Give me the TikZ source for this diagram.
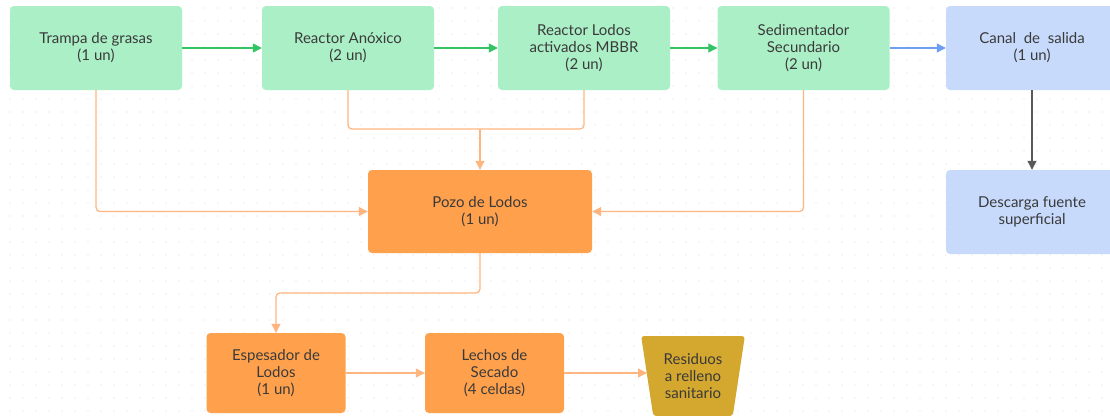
\documentclass[tikz,border=0pt]{standalone}
\usepackage{fontspec}
\setmainfont{Lato}
\usepackage{tikz}
\usetikzlibrary{arrows.meta,shapes.geometric}

\definecolor{mint}{HTML}{ABEFC6}
\definecolor{mintline}{HTML}{33C463}
\definecolor{sky}{HTML}{C7DAFC}
\definecolor{skyline}{HTML}{6E9FF2}
\definecolor{tangerine}{HTML}{FFA04C}
\definecolor{peach}{HTML}{FFB57F}
\definecolor{mustard}{HTML}{D4A72E}
\definecolor{ink}{HTML}{3A3A3A}

\begin{document}
\begin{tikzpicture}[x=1pt, y=-1pt, font=\fontsize{15}{17}\selectfont, text=ink,
                        box/.style={rectangle, rounded corners=4pt, align=center, inner sep=2pt,
                                    minimum width=172pt, minimum height=84pt},
                        stage/.style={box, fill=mint},
                        outlet/.style={box, fill=sky},
                        sludge/.style={box, fill=tangerine},
                        flow/.style={draw=mintline, line width=1.2pt, -{Triangle[length=9pt,width=9pt]}},
                        exit/.style={draw=skyline, line width=1.2pt, -{Triangle[length=9pt,width=9pt]}},
                        purge/.style={draw=peach, line width=1.2pt, rounded corners=4pt},
                        down/.style={draw=black!65, line width=1.2pt, -{Triangle[length=9pt,width=9pt]}}]

        \useasboundingbox (0,0) rectangle (1110,415);
        \fill[white] (0,0) rectangle (1110,415);
        % dotted canvas
        \foreach \gx in {10,23,...,1110}
            \foreach \gy in {8,21,...,415}
                \fill[black!15] (\gx,\gy) circle (0.6pt);

        % water line
        \node[stage]  (trampa) at (96,48)    {Trampa de grasas\\(1 un)};
        \node[stage]  (anox)   at (348,48)   {Reactor Anóxico\\(2 un)};
        \node[stage]  (mbbr)   at (584,48)   {Reactor Lodos\\activados MBBR\\(2 un)};
        \node[stage]  (sedim)  at (803.5,48) {Sedimentador\\Secundario\\(2 un)};
        \node[outlet] (canal)  at (1032,48)  {Canal\ \ de\ \ salida\\(1 un)};
        \node[outlet] (desc)   at (1032,212) {Descarga fuente\\superficial};

        % sludge line
        \node[sludge, minimum width=224pt, minimum height=83pt] (pozo) at (480,211.5) {Pozo de Lodos\\(1 un)};
        \node[sludge, minimum width=139pt, minimum height=80pt] (espes) at (276,373) {Espesador de\\Lodos\\(1 un)};
        \node[sludge, minimum width=139pt, minimum height=80pt] (lechos) at (494.5,373) {Lechos de\\Secado\\(4 celdas)};
        \node[trapezium, shape border rotate=180, trapezium stretches=true,
              trapezium left angle=79, trapezium right angle=79, rounded corners=3pt,
              minimum width=104pt, minimum height=80pt, fill=mustard, align=center,
              inner sep=2pt] (resid) at (693,376) {Residuos\\a relleno\\sanitario};

        \coordinate (junta) at (480,129);
        \coordinate (codo) at (276,293);

        \draw[flow] (trampa) -- (anox);
        \draw[flow] (anox) -- (mbbr);
        \draw[flow] (mbbr) -- (sedim);
        \draw[exit] (sedim) -- (canal);
        \draw[down] (canal) -- (desc);

        \draw[purge, -{Triangle[length=9pt,width=9pt]}] (trampa.south) |- (pozo.west);
        \draw[purge] (anox.south) |- (junta);
        \draw[purge] (mbbr.south) |- (junta);
        \draw[purge, -{Triangle[length=9pt,width=9pt]}] (junta) -- (pozo.north);
        \draw[purge, -{Triangle[length=9pt,width=9pt]}] (sedim.south) |- (pozo.east);
        \draw[purge, -{Triangle[length=9pt,width=9pt]}] (pozo.south) |- (codo) -- (espes.north);
        \draw[purge, -{Triangle[length=9pt,width=9pt]}] (espes) -- (lechos);
        \draw[purge, -{Triangle[length=9pt,width=9pt]}] (lechos.east) -- (lechos.east -| resid.west);
    \end{tikzpicture}
\end{document}
